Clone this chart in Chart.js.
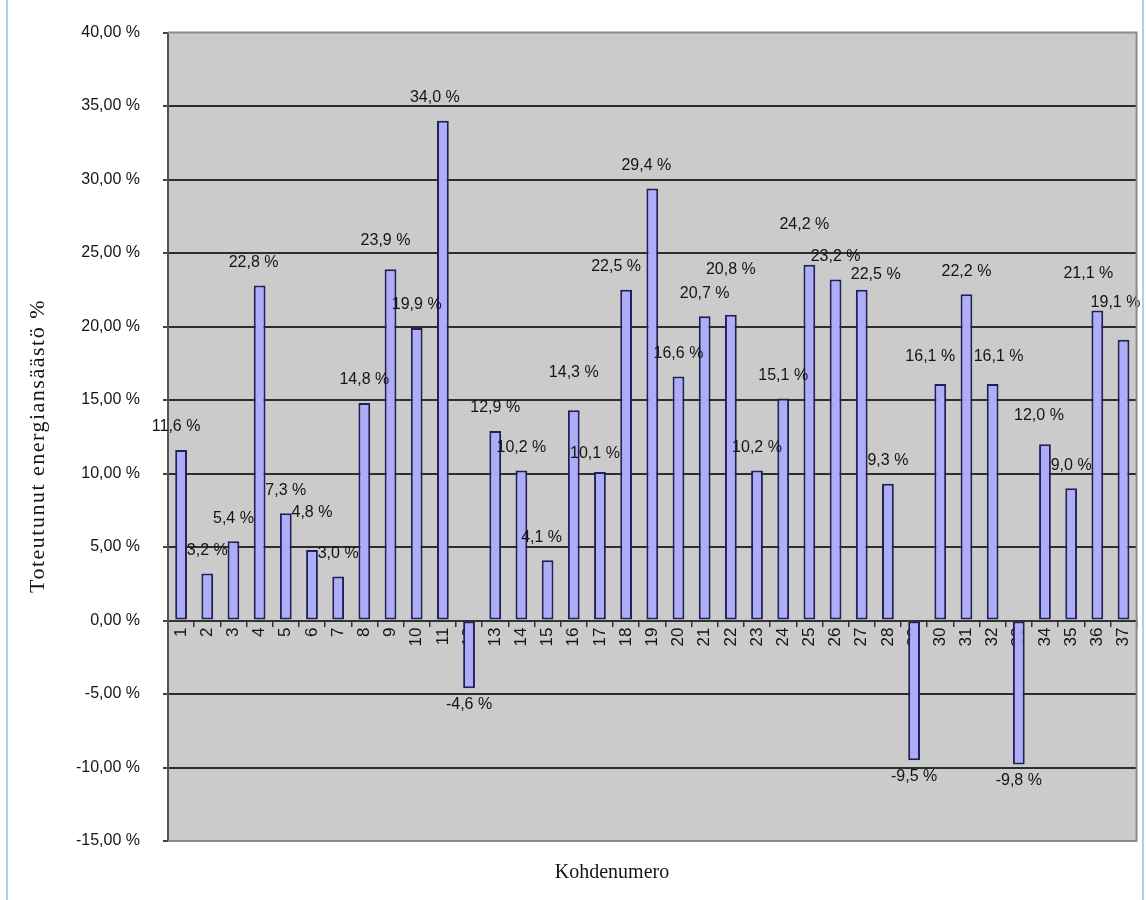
<!DOCTYPE html>
<html>
<head>
<meta charset="utf-8">
<title>Toteutunut energiansäästö</title>
<script src="https://cdn.jsdelivr.net/npm/chart.js@4.4.1/dist/chart.umd.min.js"></script>
<style>
  html, body { margin: 0; padding: 0; background: #ffffff; }
  #wrap { position: relative; width: 1146px; height: 900px; overflow: hidden; }
  #wrap canvas { position: absolute; left: 0; top: 0; }
  .edge { position: absolute; top: 0; width: 2px; height: 900px; background: #b7caf3; }
</style>
</head>
<body>
<div id="wrap">
  <div class="edge" style="left:6px"></div>
  <div class="edge" style="left:1142px"></div>
  <canvas id="chart" width="1146" height="900"></canvas>
</div>
<script>
// Site numbers (Kohdenumero)
const kohteet = ['1','2','3','4','5','6','7','8','9','10','11','12','13','14','15','16','17','18','19',
                 '20','21','22','23','24','25','26','27','28','29','30','31','32','33','34','35','36','37'];

// Realised energy saving per site, %
const saasto = [11.6, 3.2, 5.4, 22.8, 7.3, 4.8, 3.0, 14.8, 23.9, 19.9, 34.0, -4.6, 12.9, 10.2, 4.1, 14.3,
                10.1, 22.5, 29.4, 16.6, 20.7, 20.8, 10.2, 15.1, 24.2, 23.2, 22.5, 9.3, -9.5, 16.1, 22.2,
                16.1, -9.8, 12.0, 9.0, 21.1, 19.1];

// Value axis range and step, %
const yMin = -15, yMax = 40, yStep = 5;

// Small shifts [dx, dy] for value labels that would otherwise collide
const labelNudge = {
  1: [-5, 0], 4: [-6, 0], 6: [0, -14], 9: [-5, -6], 11: [-8, 0], 15: [-6, 0], 16: [0, -15],
  17: [-5, 5], 18: [-10, 0], 19: [-6, 0], 22: [0, -22], 25: [-5, -17], 27: [14, 8],
  30: [-10, -4], 32: [6, -4], 34: [-6, -6], 36: [-9, -14], 37: [-8, -14]
};

const fmtPct = (v, d) => v.toFixed(d).replace('.', ',') + ' %';
const sans = "'Liberation Sans', Arial, sans-serif";
const serif = "'Liberation Serif', 'Times New Roman', serif";
const ink = '#141414';

// Grey plot area with a thin grey frame
const plotArea = {
  id: 'plotArea',
  beforeDraw(chart) {
    const { ctx, chartArea: a } = chart;
    ctx.save();
    ctx.fillStyle = '#cbcbcb';
    ctx.fillRect(a.left, a.top, a.right - a.left, a.bottom - a.top);
    ctx.restore();
  },
  afterDraw(chart) {
    const { ctx, chartArea: a } = chart;
    ctx.save();
    ctx.strokeStyle = '#8c8c8c';
    ctx.lineWidth = 2;
    ctx.beginPath();
    ctx.moveTo(a.left, a.top);
    ctx.lineTo(a.right, a.top);
    ctx.lineTo(a.right, a.bottom);
    ctx.lineTo(a.left, a.bottom);
    ctx.stroke();
    ctx.restore();
  }
};

// Percentage label above (or below) each bar
const valueLabels = {
  id: 'valueLabels',
  afterDatasetsDraw(chart) {
    const { ctx } = chart;
    const meta = chart.getDatasetMeta(0);
    const values = chart.data.datasets[0].data;
    ctx.save();
    ctx.font = '16px ' + sans;
    ctx.fillStyle = ink;
    ctx.textAlign = 'center';
    ctx.textBaseline = 'middle';
    meta.data.forEach((bar, i) => {
      const v = values[i];
      const n = labelNudge[i + 1] || [0, 0];
      const y = v >= 0 ? bar.y - 23 : bar.y + 16;
      ctx.fillText(fmtPct(v, 1), bar.x + n[0], y + n[1]);
    });
    ctx.restore();
  }
};

// Axis titles
const axisTitles = {
  id: 'axisTitles',
  afterDraw(chart) {
    const { ctx } = chart;
    ctx.save();
    ctx.fillStyle = ink;
    ctx.textAlign = 'center';
    ctx.textBaseline = 'middle';
    ctx.font = '20px ' + serif;
    ctx.fillText('Kohdenumero', 612, 873);
    ctx.translate(38, 446);
    ctx.rotate(-Math.PI / 2);
    ctx.font = '22px ' + serif;
    ctx.letterSpacing = '1.5px';
    ctx.fillText('Toteutunut energiansäästö %', 0, 0);
    ctx.restore();
  }
};

new Chart(document.getElementById('chart'), {
  type: 'bar',
  data: {
    labels: kohteet,
    datasets: [{
      data: saasto,
      backgroundColor: '#adadf8',
      borderColor: '#20205a',
      borderWidth: 2,
      borderSkipped: false,
      barPercentage: 0.45,
      categoryPercentage: 1.0
    }]
  },
  options: {
    responsive: false,
    animation: false,
    devicePixelRatio: 1,
    layout: { padding: { left: 0, top: 24, right: 6, bottom: 59 } },
    plugins: {
      legend: { display: false },
      tooltip: { enabled: false },
      title: { display: false }
    },
    scales: {
      x: {
        type: 'category',
        position: { y: 0 },
        offset: true,
        grid: {
          offset: true,
          drawOnChartArea: false,
          drawTicks: true,
          tickLength: 5,
          tickColor: '#333333',
          lineWidth: 1.5
        },
        border: { display: true, color: '#333333', width: 2 },
        ticks: {
          autoSkip: false,
          minRotation: 90,
          maxRotation: 90,
          padding: 2,
          color: ink,
          font: { family: sans, size: 17 }
        }
      },
      y: {
        min: yMin,
        max: yMax,
        afterFit(scale) { scale.width = 168; },
        grid: {
          color: ctx => (ctx.tick && (ctx.tick.value === yMax || ctx.tick.value === yMin)) ? 'rgba(0,0,0,0)' : '#2e2e2e',
          lineWidth: 2,
          drawTicks: true,
          tickLength: 5,
          tickColor: '#444444'
        },
        border: { display: true, color: '#555555', width: 2 },
        ticks: {
          stepSize: yStep,
          padding: 23,
          color: ink,
          font: { family: sans, size: 16 },
          callback: v => fmtPct(v, 2)
        }
      }
    }
  },
  plugins: [plotArea, valueLabels, axisTitles]
});
</script>
</body>
</html>
